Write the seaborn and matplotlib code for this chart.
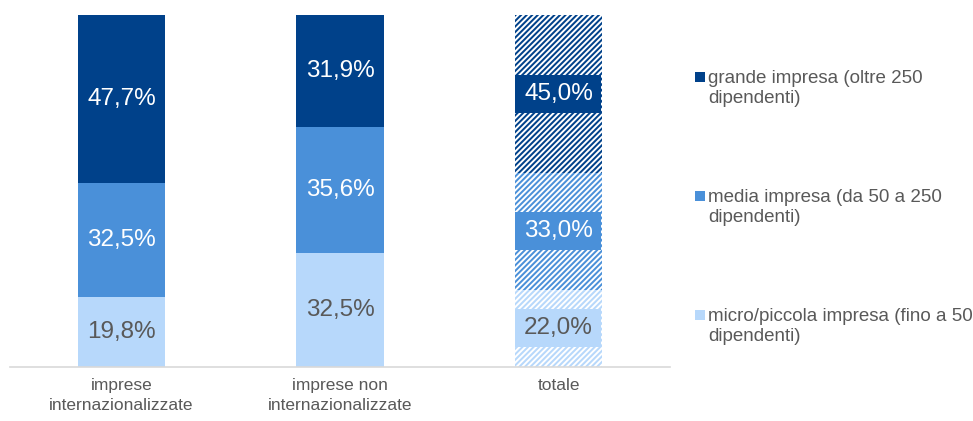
import matplotlib
matplotlib.use("Agg")
import matplotlib.pyplot as plt
from matplotlib.patches import Rectangle
import numpy as np
import pandas as pd
import seaborn as sns

# Data: share of firms by size class (%), per group
categories = ["imprese\ninternazionalizzate", "imprese non\ninternazionalizzate", "totale"]
micro_piccola = [19.8, 32.5, 22.0]
media = [32.5, 35.6, 33.0]
grande = [47.7, 31.9, 45.0]
series_labels = [
    "grande impresa (oltre 250\ndipendenti)",
    "media impresa (da 50 a 250\ndipendenti)",
    "micro/piccola impresa (fino a 50\ndipendenti)",
]
hatched_group = "totale"

C_DARK = "#00418A"
C_MID = "#4A90D9"
C_LIGHT = "#B7D8FB"
GRAY = "#595959"

sns.set_theme(style="white")
plt.rcParams["font.family"] = ["Liberation Sans", "DejaVu Sans"]
plt.rcParams["hatch.linewidth"] = 1.4

fig = plt.figure(figsize=(9.73, 4.21), dpi=100)
ax = fig.add_axes([10 / 973, 54 / 421, 660 / 973, 352 / 421])

micro_arr = np.array(micro_piccola)
media_arr = np.array(media)
grande_arr = np.array(grande)
cum_media = micro_arr + media_arr
cum_grande = cum_media + grande_arr

# Stacked bars drawn as overlapping cumulative layers (top layer first)
layers = [(cum_grande, C_DARK), (cum_media, C_MID), (micro_arr, C_LIGHT)]
hatch_idx = categories.index(hatched_group)
hatched_bar = None
for vals, col in layers:
    df = pd.DataFrame({"gruppo": categories, "valore": vals})
    n_before = len(ax.patches)
    sns.barplot(data=df, x="gruppo", y="valore", color=col, saturation=1,
                width=0.4, errorbar=None, ax=ax, linewidth=0)
    new = ax.patches[n_before:]
    for i, p in enumerate(new):
        p.set_facecolor(col)
        if i == hatch_idx:
            p.set_hatch("//////")
            p.set_edgecolor("white")
            p.set_linewidth(0)
            hatched_bar = p

# Value labels at segment centres
segments = [
    (micro_arr, micro_arr / 2, C_LIGHT, GRAY),
    (media_arr, micro_arr + media_arr / 2, C_MID, "white"),
    (grande_arr, cum_media + grande_arr / 2, C_DARK, "white"),
]
box_h = 10.8
for vals, centers, fill, tcol in segments:
    for i, (v, c) in enumerate(zip(vals, centers)):
        txt = f"{v:.1f}%".replace(".", ",")
        if i == hatch_idx:
            bx = hatched_bar.get_x()
            bw = hatched_bar.get_width()
            ax.add_patch(Rectangle((bx + bw * 0.005, c - box_h / 2), bw * 0.975, box_h,
                                   facecolor=fill, edgecolor="none", zorder=3))
        ax.text(i, c, txt, ha="center", va="center", fontsize=17.5,
                color=tcol, zorder=4)

ax.set_xlim(-0.51, 2.51)
ax.set_ylim(0, 100)
ax.set_xlabel("")
ax.set_ylabel("")
ax.set_yticks([])
for s in ["left", "right", "top"]:
    ax.spines[s].set_visible(False)
ax.spines["bottom"].set_color("#D9D9D9")
ax.spines["bottom"].set_linewidth(1.2)
ax.tick_params(axis="x", length=0, pad=8, labelsize=12.5, labelcolor=GRAY)
for lbl in ax.get_xticklabels():
    lbl.set_linespacing(1.4)

# Legend: square markers aligned with the first line of each label
legend_colors = [C_DARK, C_MID, C_LIGHT]
legend_y = [77, 196, 315]
for lab, col, y in zip(series_labels, legend_colors, legend_y):
    fig.patches.append(Rectangle((695 / 973, 1 - (y + 5) / 421), 10 / 973, 10 / 421,
                                 transform=fig.transFigure, facecolor=col,
                                 edgecolor="none"))
    fig.text(708 / 973, 1 - (y - 7) / 421, lab, ha="left", va="top",
             fontsize=13.5, color=GRAY, linespacing=1.25)

fig.savefig("out.png", dpi=100)
